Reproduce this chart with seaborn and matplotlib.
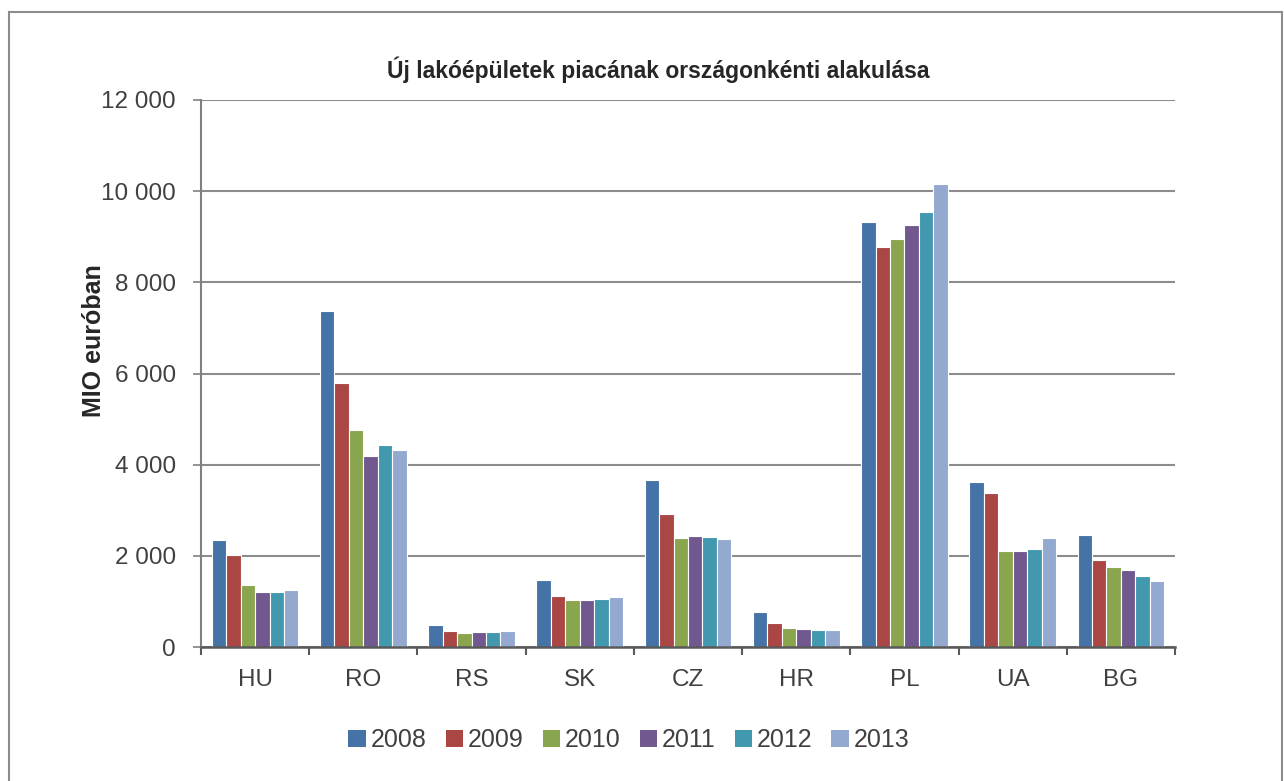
import matplotlib
matplotlib.use("Agg")
import matplotlib.pyplot as plt
import seaborn as sns
import pandas as pd
from matplotlib.patches import Rectangle
from matplotlib.ticker import FuncFormatter, FixedLocator

countries = ["HU", "RO", "RS", "SK", "CZ", "HR", "PL", "UA", "BG"]
years = ["2008", "2009", "2010", "2011", "2012", "2013"]
v2008 = [2340, 7380, 490, 1465, 3655, 770, 9330, 3620, 2450]
v2009 = [2010, 5790, 360, 1110, 2910, 535, 8780, 3380, 1910]
v2010 = [1350, 4750, 310, 1040, 2390, 425, 8940, 2105, 1765]
v2011 = [1210, 4185, 325, 1025, 2430, 385, 9265, 2105, 1680]
v2012 = [1210, 4430, 340, 1050, 2420, 370, 9550, 2140, 1560]
v2013 = [1255, 4320, 355, 1090, 2370, 370, 10165, 2395, 1440]
colors = ["#4572A7", "#AA4643", "#89A54E", "#71588F", "#4198AF", "#93A9CF"]

series = [v2008, v2009, v2010, v2011, v2012, v2013]
rows = []
for y, vals in zip(years, series):
    for c, v in zip(countries, vals):
        rows.append({"country": c, "year": y, "value": v})
df = pd.DataFrame(rows)

sns.set_style("white")
plt.rcParams["font.family"] = ["Liberation Sans", "DejaVu Sans"]

fig = plt.figure(figsize=(12.84, 7.81), dpi=100)
ax = fig.add_axes([201 / 1284, 1 - 647 / 781, (1175 - 201) / 1284, (647 - 100) / 781])

sns.barplot(data=df, x="country", y="value", hue="year", palette=colors,
            order=countries, hue_order=years, width=0.8, ax=ax,
            edgecolor="white", linewidth=0.8, errorbar=None, legend=False, saturation=1)

ax.set_ylim(0, 12000)
ax.set_xlim(-0.5, len(countries) - 0.5)
ax.set_yticks(range(0, 12001, 2000))
ax.yaxis.set_major_formatter(FuncFormatter(lambda v, p: f"{int(v):,}".replace(",", " ")))
ax.yaxis.grid(True, color="#8c8c8c", linewidth=1.5)
ax.set_axisbelow(True)
for s in ["top", "right"]:
    ax.spines[s].set_visible(False)
ax.spines["left"].set_color("#808080")
ax.spines["left"].set_linewidth(1.5)
ax.spines["bottom"].set_color("#595959")
ax.spines["bottom"].set_linewidth(1.8)

ax.tick_params(axis="y", length=6, width=1.2, color="#808080", labelsize=17.5,
               labelcolor="#404040", pad=12, left=True)
ax.tick_params(axis="x", which="major", length=0, labelsize=17.5, labelcolor="#404040", pad=16)
ax.xaxis.set_minor_locator(FixedLocator([i - 0.5 for i in range(len(countries) + 1)]))
ax.tick_params(axis="x", which="minor", length=6, width=1.5, color="#595959", bottom=True)

ax.set_xlabel("")
ax.set_ylabel("MIO euróban", fontsize=18, fontweight="bold", color="#262626", labelpad=2)
ax.yaxis.set_label_coords(-0.098, (647 - 341) / 547)

fig.text(658 / 1284, 1 - 70 / 781, "Új lakóépületek piacának országonkénti alakulása",
         ha="center", va="center", fontsize=16.5, fontweight="bold", color="#262626")

handles = [Rectangle((0, 0), 1, 1, facecolor=c, edgecolor="none") for c in colors]
fig.legend(handles, years, loc="center", bbox_to_anchor=(629 / 1284, 1 - 740 / 781),
           ncol=6, frameon=False, fontsize=18, handlelength=0.7, handleheight=0.7,
           handletextpad=0.2, columnspacing=0.75, labelcolor="#404040")

fig.patches.append(Rectangle((9 / 1284, -0.05), (1282 - 9) / 1284, 1 - 12 / 781 + 0.05,
                             transform=fig.transFigure, fill=False,
                             edgecolor="#8c8c8c", linewidth=1.5))

fig.savefig("out.png", dpi=100)
